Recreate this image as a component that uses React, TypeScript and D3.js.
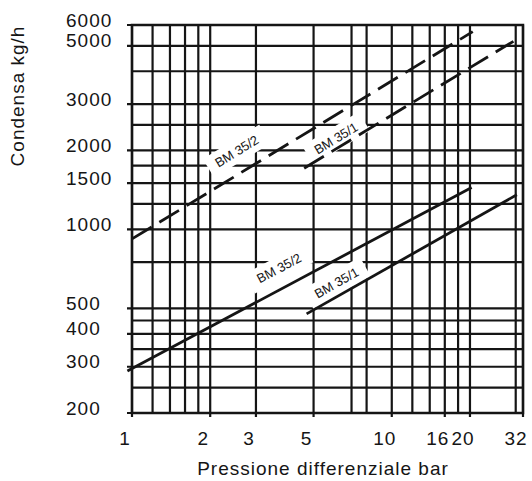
import React from "react";
import * as d3 from "d3";

// ---- data ----
const xTickValues = [1, 2, 3, 5, 10, 16, 20, 32];
const yTickValues = [200, 300, 400, 500, 1000, 1500, 2000, 3000, 5000, 6000];
const xGridValues = [1, 1.2, 1.4, 1.6, 1.8, 2, 3, 5, 7, 8, 10, 12, 14, 16, 18, 20, 30, 32];
const yGridValues = [200, 250, 300, 350, 400, 450, 500, 750, 1000, 1250, 1500, 1750, 2000, 2500, 3000, 4000, 5000, 6000];

// series: pressure (bar) -> condensate (kg/h)
const bm352DashedX = [1, 20.5];
const bm352DashedY = [920, 5660];
const bm351DashedX = [4.6, 29.4];
const bm351DashedY = [1710, 5200];
const bm352SolidX = [0.96, 20.3];
const bm352SolidY = [289, 1445];
const bm351SolidX = [4.7, 30.3];
const bm351SolidY = [477, 1355];

const seriesNames = ["BM 35/2", "BM 35/1", "BM 35/2", "BM 35/1"];
const seriesDashed = [true, true, false, false];
const labelAtX = [2.53, 6.1, 3.68, 6.13];
const labelLift = [24, 10.5, 22, 14];

const W = 532;
const H = 481;
const INK = "#151515";
const FONT = "'Liberation Sans', Arial, Helvetica, sans-serif";

export default function App() {
  const x = d3.scaleLog().domain([1, 32]).range([132, 523]);
  const y = d3.scaleLog().domain([200, 6000]).range([413, 25]);
  const [x0, x1] = x.range();
  const [y0, y1] = y.range();

  const seriesX = [bm352DashedX, bm351DashedX, bm352SolidX, bm351SolidX];
  const seriesY = [bm352DashedY, bm351DashedY, bm352SolidY, bm351SolidY];
  const line = d3
    .line<[number, number]>()
    .x((d) => x(d[0]))
    .y((d) => y(d[1]));

  const series = seriesX.map((xs, i) => {
    const pts: [number, number][] = xs.map((v, j) => [v, seriesY[i][j]]);
    const [p0, p1] = pts;
    const sx0 = x(p0[0]);
    const sy0 = y(p0[1]);
    const sx1 = x(p1[0]);
    const sy1 = y(p1[1]);
    const slope = (sy1 - sy0) / (sx1 - sx0);
    const angle = (Math.atan(slope) * 180) / Math.PI;
    const lx = x(labelAtX[i]);
    const ly = sy0 + slope * (lx - sx0) - labelLift[i];
    return { d: line(pts) as string, angle, lx, ly, name: seriesNames[i], dashed: seriesDashed[i] };
  });

  const labeledY = new Set(yTickValues);
  const labeledX = new Set(xTickValues);

  return (
    <svg
      width={W}
      height={H}
      viewBox={`0 0 ${W} ${H}`}
      style={{ position: "absolute", left: 0, top: 0, background: "#fff" }}
    >
      <rect x={0} y={0} width={W} height={H} fill="#fff" />
      {/* horizontal grid */}
      {yGridValues.map((v) => (
        <line
          key={"h" + v}
          x1={labeledY.has(v) ? x0 - 5 : x0}
          x2={x1}
          y1={y(v)}
          y2={y(v)}
          stroke={INK}
          strokeWidth={2.2}
        />
      ))}
      {/* vertical grid */}
      {xGridValues.map((v) => (
        <line
          key={"v" + v}
          x1={x(v)}
          x2={x(v)}
          y1={y1}
          y2={labeledX.has(v) ? y0 + 4 : y0}
          stroke={INK}
          strokeWidth={2.2}
        />
      ))}
      {/* frame */}
      <rect x={x0} y={y1} width={x1 - x0} height={y0 - y1} fill="none" stroke={INK} strokeWidth={2.5} />

      {/* white label backgrounds cutting the grid */}
      {series.map((s, i) => (
        <rect
          key={"bg" + i}
          x={-33}
          y={-11}
          width={66}
          height={22}
          fill="#fff"
          transform={`translate(${s.lx},${s.ly}) rotate(${s.angle})`}
        />
      ))}

      {/* series lines */}
      {series.map((s, i) => (
        <path
          key={"s" + i}
          d={s.d}
          fill="none"
          stroke={INK}
          strokeWidth={2.8}
          strokeDasharray={s.dashed ? "23 9" : undefined}
        />
      ))}

      {/* series labels */}
      {series.map((s, i) => (
        <text
          key={"t" + i}
          transform={`translate(${s.lx},${s.ly}) rotate(${s.angle})`}
          textAnchor="middle"
          dominantBaseline="central"
          fontFamily={FONT}
          fontSize={13}
          fill={INK}
        >
          {s.name}
        </text>
      ))}

      {/* y tick labels */}
      {yTickValues.map((v) => (
        <text
          key={"yl" + v}
          x={66}
          y={y(v) - 5}
          dominantBaseline="central"
          fontFamily={FONT}
          fontSize={19}
          letterSpacing={1}
          fill={INK}
        >
          {v}
        </text>
      ))}
      {/* x tick labels */}
      {xTickValues.map((v) => (
        <text
          key={"xl" + v}
          x={x(v) - 7}
          y={445}
          textAnchor="middle"
          fontFamily={FONT}
          fontSize={19}
          letterSpacing={1}
          fill={INK}
        >
          {v}
        </text>
      ))}
      {/* axis titles */}
      <text
        x={323}
        y={475}
        textAnchor="middle"
        fontFamily={FONT}
        fontSize={19}
        letterSpacing={1}
        fill={INK}
      >
        Pressione differenziale bar
      </text>
      <text
        transform="translate(24,96) rotate(-90)"
        textAnchor="middle"
        fontFamily={FONT}
        fontSize={19}
        letterSpacing={1}
        fill={INK}
      >
        Condensa kg/h
      </text>
    </svg>
  );
}
